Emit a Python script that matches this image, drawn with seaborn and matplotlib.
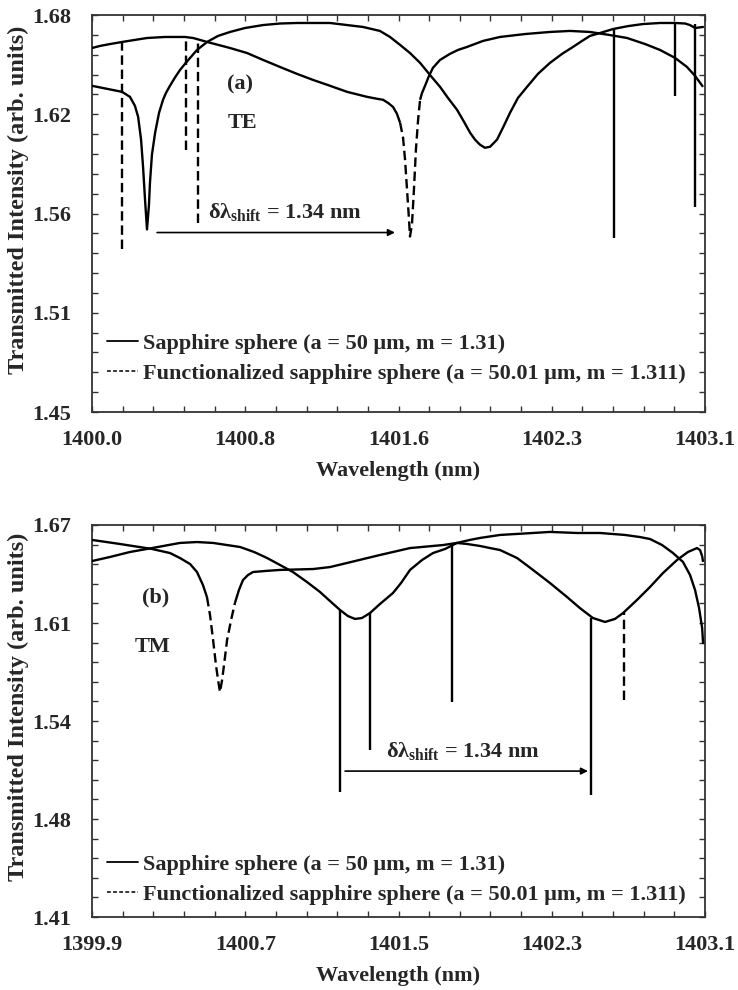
import numpy as np
import matplotlib
matplotlib.use("Agg")
import matplotlib.pyplot as plt
from matplotlib.lines import Line2D
from matplotlib.ticker import AutoMinorLocator
import seaborn as sns

# ---------------- (a) TE polarisation ----------------
te_xlim = (1400.0, 1403.1)
te_ylim = (1.45, 1.68)
te_xticklabels = ["1400.0", "1400.8", "1401.6", "1402.3", "1403.1"]
te_yticklabels = ["1.45", "1.51", "1.56", "1.62", "1.68"]

# sapphire sphere (a = 50 um, m = 1.31)
te_sapphire_x = [1400.000, 1400.152, 1400.192, 1400.217, 1400.233, 1400.248, 1400.258,
                 1400.268, 1400.278, 1400.288, 1400.293, 1400.303, 1400.319, 1400.339,
                 1400.359, 1400.374, 1400.394, 1400.420, 1400.445, 1400.470, 1400.496,
                 1400.531, 1400.582, 1400.637, 1400.698, 1400.774, 1400.865, 1400.951,
                 1401.037, 1401.128, 1401.204, 1401.290, 1401.370, 1401.456, 1401.507,
                 1401.558, 1401.608, 1401.659, 1401.709, 1401.760, 1401.800, 1401.846,
                 1401.881, 1401.912, 1401.937, 1401.962, 1401.987, 1402.013, 1402.048,
                 1402.078, 1402.114, 1402.154, 1402.200, 1402.255, 1402.316, 1402.377,
                 1402.432, 1402.478, 1402.518, 1402.569, 1402.635, 1402.711, 1402.787,
                 1402.873, 1402.948, 1402.999, 1403.024, 1403.050, 1403.090]
te_sapphire_y = [1.6390, 1.6355, 1.6326, 1.6274, 1.6211, 1.6078, 1.5922,
                 1.5731, 1.5558, 1.5702, 1.5829, 1.5991, 1.6118, 1.6234,
                 1.6309, 1.6349, 1.6390, 1.6439, 1.6482, 1.6517, 1.6552,
                 1.6598, 1.6644, 1.6679, 1.6702, 1.6725, 1.6742, 1.6751,
                 1.6754, 1.6754, 1.6754, 1.6742, 1.6731, 1.6708, 1.6673,
                 1.6627, 1.6580, 1.6523, 1.6453, 1.6384, 1.6320, 1.6251,
                 1.6182, 1.6118, 1.6078, 1.6049, 1.6031, 1.6037, 1.6078,
                 1.6147, 1.6234, 1.6320, 1.6384, 1.6459, 1.6523, 1.6575,
                 1.6615, 1.6650, 1.6679, 1.6696, 1.6719, 1.6736, 1.6748,
                 1.6754, 1.6754, 1.6751, 1.6742, 1.6725, 1.6731]
te_sapphire_res_x = [1402.640, 1402.948, 1403.050]
te_sapphire_res_top = [1.6719, 1.6754, 1.6748]
te_sapphire_res_bottom = [1.5511, 1.6332, 1.5690]

# functionalized sapphire sphere (a = 50.01 um, m = 1.311)
te_func_x = [1400.000, 1400.040, 1400.091, 1400.152, 1400.217, 1400.278, 1400.369,
             1400.470, 1400.511, 1400.546, 1400.582, 1400.622, 1400.698, 1400.784,
             1400.865, 1400.951, 1401.037, 1401.118, 1401.204, 1401.290, 1401.391,
             1401.441, 1401.472, 1401.497, 1401.522, 1401.542, 1401.558, 1401.573,
             1401.583, 1401.593, 1401.603, 1401.608, 1401.618, 1401.628, 1401.638,
             1401.649, 1401.659, 1401.669, 1401.684, 1401.704, 1401.724, 1401.760,
             1401.810, 1401.851, 1401.896, 1401.977, 1402.063, 1402.190, 1402.316,
             1402.417, 1402.518, 1402.620, 1402.706, 1402.797, 1402.872, 1402.948,
             1403.009, 1403.050, 1403.090]
te_func_y = [1.6609, 1.6621, 1.6632, 1.6644, 1.6656, 1.6667, 1.6673,
             1.6673, 1.6667, 1.6656, 1.6644, 1.6632, 1.6609, 1.6580,
             1.6540, 1.6499, 1.6459, 1.6424, 1.6390, 1.6355, 1.6326,
             1.6315, 1.6309, 1.6291, 1.6268, 1.6228, 1.6176, 1.6089,
             1.5962, 1.5789, 1.5615, 1.5517, 1.5586, 1.5789, 1.6020,
             1.6193, 1.6309, 1.6349, 1.6390, 1.6447, 1.6494, 1.6540,
             1.6575, 1.6598, 1.6615, 1.6650, 1.6673, 1.6690, 1.6702,
             1.6708, 1.6702, 1.6684, 1.6667, 1.6632, 1.6598, 1.6552,
             1.6499, 1.6447, 1.6384]
te_func_res_x = [1400.152, 1400.475, 1400.536]
te_func_res_top = [1.6644, 1.6673, 1.6656]
te_func_res_bottom = [1.5442, 1.6020, 1.5598]

te_shift_from = 1400.329
te_shift_to = 1401.532
te_shift_level = 1.5540

# ---------------- (b) TM polarisation ----------------
tm_xlim = (1399.9, 1403.1)
tm_ylim = (1.41, 1.67)
tm_xticklabels = ["1399.9", "1400.7", "1401.5", "1402.3", "1403.1"]
tm_yticklabels = ["1.41", "1.48", "1.54", "1.61", "1.67"]

tm_sapphire_x = [1399.900, 1399.994, 1400.098, 1400.213, 1400.359, 1400.448, 1400.532,
                 1400.673, 1400.746, 1400.814, 1400.881, 1400.949, 1401.022, 1401.090,
                 1401.142, 1401.195, 1401.236, 1401.273, 1401.309, 1401.351, 1401.403,
                 1401.471, 1401.513, 1401.560, 1401.623, 1401.680, 1401.743, 1401.805,
                 1401.873, 1401.925, 1402.030, 1402.202, 1402.291, 1402.432, 1402.552,
                 1402.682, 1402.761, 1402.813, 1402.876, 1402.933, 1402.985, 1403.022,
                 1403.048, 1403.069, 1403.085, 1403.090]
tm_sapphire_y = [1.6461, 1.6488, 1.6521, 1.6547, 1.6581, 1.6587, 1.6581,
                 1.6554, 1.6521, 1.6481, 1.6435, 1.6388, 1.6322, 1.6256,
                 1.6196, 1.6136, 1.6096, 1.6077, 1.6083, 1.6116, 1.6176,
                 1.6249, 1.6315, 1.6402, 1.6468, 1.6514, 1.6541, 1.6581,
                 1.6601, 1.6614, 1.6634, 1.6647, 1.6654, 1.6647, 1.6647,
                 1.6634, 1.6620, 1.6607, 1.6567, 1.6514, 1.6455, 1.6368,
                 1.6269, 1.6149, 1.6017, 1.5917]
tm_sapphire_res_x = [1401.195, 1401.351, 1401.779, 1402.505]
tm_sapphire_res_top = [1.6136, 1.6116, 1.6561, 1.6083]
tm_sapphire_res_bottom = [1.4929, 1.5208, 1.5526, 1.4909]

tm_func_x = [1399.900, 1400.046, 1400.213, 1400.307, 1400.359, 1400.412, 1400.448,
             1400.479, 1400.500, 1400.516, 1400.532, 1400.547, 1400.558, 1400.568,
             1400.579, 1400.589, 1400.605, 1400.626, 1400.646, 1400.667, 1400.688,
             1400.714, 1400.740, 1400.803, 1400.881, 1401.054, 1401.142, 1401.231,
             1401.315, 1401.403, 1401.560, 1401.732, 1401.805, 1401.858, 1401.925,
             1401.978, 1402.030, 1402.119, 1402.202, 1402.291, 1402.380, 1402.447,
             1402.515, 1402.578, 1402.630, 1402.672, 1402.745, 1402.813, 1402.881,
             1402.954, 1403.011, 1403.058, 1403.074, 1403.085, 1403.090]
tm_func_y = [1.6601, 1.6574, 1.6541, 1.6514, 1.6481, 1.6441, 1.6388,
             1.6302, 1.6222, 1.6103, 1.5937, 1.5771, 1.5672, 1.5592,
             1.5672, 1.5771, 1.5937, 1.6070, 1.6183, 1.6269, 1.6335,
             1.6368, 1.6388, 1.6395, 1.6402, 1.6408, 1.6421, 1.6448,
             1.6474, 1.6501, 1.6547, 1.6567, 1.6581, 1.6574, 1.6561,
             1.6547, 1.6534, 1.6481, 1.6402, 1.6315, 1.6222, 1.6149,
             1.6083, 1.6057, 1.6077, 1.6116, 1.6203, 1.6289, 1.6382,
             1.6468, 1.6521, 1.6547, 1.6534, 1.6494, 1.6455]
tm_func_res_x = [1402.677]
tm_func_res_top = [1.6123]
tm_func_res_bottom = [1.5539]

tm_shift_from = 1401.221
tm_shift_to = 1402.489
tm_shift_level = 1.5068

legend_labels = ["Sapphire sphere (a = 50 \u03bcm, m = 1.31)",
                 "Functionalized sapphire sphere (a = 50.01 \u03bcm, m = 1.311)"]
shift_label = "\u03b4\u03bb$_{\\mathbf{shift}}$ = 1.34 nm"

# ---------------- styling ----------------
sns.set_theme(style="ticks")
plt.rcParams["font.family"] = ["Liberation Serif", "DejaVu Serif"]
plt.rcParams["font.weight"] = "bold"
plt.rcParams["mathtext.fontset"] = "custom"
plt.rcParams["mathtext.bf"] = "Liberation Serif:bold"
plt.rcParams["mathtext.rm"] = "Liberation Serif:bold"

FS = 16
YLABEL_FS = 17.5
LW = 1.7
DASH = (0, (4, 2))
INK = "black"

fig = plt.figure(figsize=(7.38, 9.90), dpi=100)
ax_te = fig.add_axes([0.1247, 0.5838, 0.8306, 0.4010])
ax_tm = fig.add_axes([0.1247, 0.0737, 0.8306, 0.3960])


def style_axes(ax, xlim, ylim, xlabels, ylabels):
    ax.set_xlim(*xlim)
    ax.set_ylim(*ylim)
    ax.set_xticks(np.linspace(xlim[0], xlim[1], len(xlabels)))
    ax.set_xticklabels(xlabels)
    ax.set_yticks(np.linspace(ylim[0], ylim[1], len(ylabels)))
    ax.set_yticklabels(ylabels)
    ax.xaxis.set_minor_locator(AutoMinorLocator(5))
    ax.yaxis.set_minor_locator(AutoMinorLocator(5))
    for which in ("major", "minor"):
        ax.tick_params(which=which, direction="in", length=4.5, width=1.0,
                       color="#333333", top=True, right=True)
    ax.tick_params(axis="x", which="major", pad=13, labelsize=FS)
    ax.tick_params(axis="y", which="major", pad=15, labelsize=FS)
    for sp in ax.spines.values():
        sp.set_visible(True)
        sp.set_linewidth(1.3)
        sp.set_color("#333333")
    for lab in ax.get_xticklabels() + ax.get_yticklabels():
        lab.set_fontweight("bold")
    ax.set_xlabel("Wavelength (nm)", fontsize=FS, fontweight="bold", labelpad=8)
    ax.set_ylabel("Transmitted Intensity (arb. units)", fontsize=YLABEL_FS,
                  fontweight="bold")
    ax.yaxis.set_label_coords(-0.103, 0.535)


def draw_functionalized(ax, x, y):
    """Dense simulated curve: flat stretches render solid, steep flanks dashed."""
    x = np.asarray(x)
    y = np.asarray(y)
    pts = ax.transData.transform(np.column_stack([x, y]))
    dx = np.abs(np.diff(pts[:, 0]))
    dy = np.abs(np.diff(pts[:, 1]))
    steep = dy > 4.0 * dx
    start = 0
    for i in range(1, len(steep) + 1):
        if i == len(steep) or steep[i] != steep[start]:
            seg = slice(start, i + 1)
            ax.plot(x[seg], y[seg], color=INK, lw=LW,
                    linestyle=DASH if steep[start] else "-",
                    solid_capstyle="butt", solid_joinstyle="round", zorder=3)
            start = i


def draw_panel(ax, sx, sy, srx, srt, srb, fx, fy, frx, frt, frb):
    sns.lineplot(x=sx, y=sy, sort=False, estimator=None, color=INK, lw=LW,
                 ax=ax, zorder=4)
    draw_functionalized(ax, fx, fy)
    ax.vlines(srx, srb, srt, colors=INK, lw=LW, zorder=4)
    ax.vlines(frx, frb, frt, colors=INK, lw=LW, linestyles=[DASH], zorder=3)


def add_legend(ax, y_anchor):
    handles = [Line2D([], [], color=INK, lw=1.3),
               Line2D([], [], color=INK, lw=1.1, linestyle=(0, (2.5, 1.5)))]
    leg = ax.legend(handles, legend_labels, loc="lower left",
                    bbox_to_anchor=(0.024, y_anchor), frameon=False,
                    prop={"size": FS, "weight": "bold"}, handlelength=1.4,
                    handletextpad=0.25, labelspacing=0.45, borderpad=0,
                    borderaxespad=0)
    return leg


def add_shift(ax, x0, x1, level, text_xy):
    ax.annotate("", xy=(x1, level), xytext=(x0, level),
                arrowprops=dict(arrowstyle="-|>", color=INK, lw=1.2,
                                mutation_scale=10, shrinkA=0, shrinkB=0))
    ax.text(*text_xy, shift_label, transform=ax.transAxes, fontsize=FS,
            fontweight="bold", ha="left", va="center")


# (a) TE
style_axes(ax_te, te_xlim, te_ylim, te_xticklabels, te_yticklabels)
draw_panel(ax_te, te_sapphire_x, te_sapphire_y, te_sapphire_res_x,
           te_sapphire_res_top, te_sapphire_res_bottom,
           te_func_x, te_func_y, te_func_res_x, te_func_res_top, te_func_res_bottom)
add_shift(ax_te, te_shift_from, te_shift_to, te_shift_level, (0.189, 0.503))
ax_te.text(0.241, 0.824, "(a)", transform=ax_te.transAxes, fontsize=FS,
           fontweight="bold", ha="center", va="center")
ax_te.text(0.245, 0.728, "TE", transform=ax_te.transAxes, fontsize=FS,
           fontweight="bold", ha="center", va="center")
add_legend(ax_te, 0.07)

# (b) TM
style_axes(ax_tm, tm_xlim, tm_ylim, tm_xticklabels, tm_yticklabels)
draw_panel(ax_tm, tm_sapphire_x, tm_sapphire_y, tm_sapphire_res_x,
           tm_sapphire_res_top, tm_sapphire_res_bottom,
           tm_func_x, tm_func_y, tm_func_res_x, tm_func_res_top, tm_func_res_bottom)
add_shift(ax_tm, tm_shift_from, tm_shift_to, tm_shift_level, (0.480, 0.421))
ax_tm.text(0.103, 0.814, "(b)", transform=ax_tm.transAxes, fontsize=FS,
           fontweight="bold", ha="center", va="center")
ax_tm.text(0.098, 0.689, "TM", transform=ax_tm.transAxes, fontsize=FS,
           fontweight="bold", ha="center", va="center")
add_legend(ax_tm, 0.03)

fig.savefig("out.png", dpi=100)
